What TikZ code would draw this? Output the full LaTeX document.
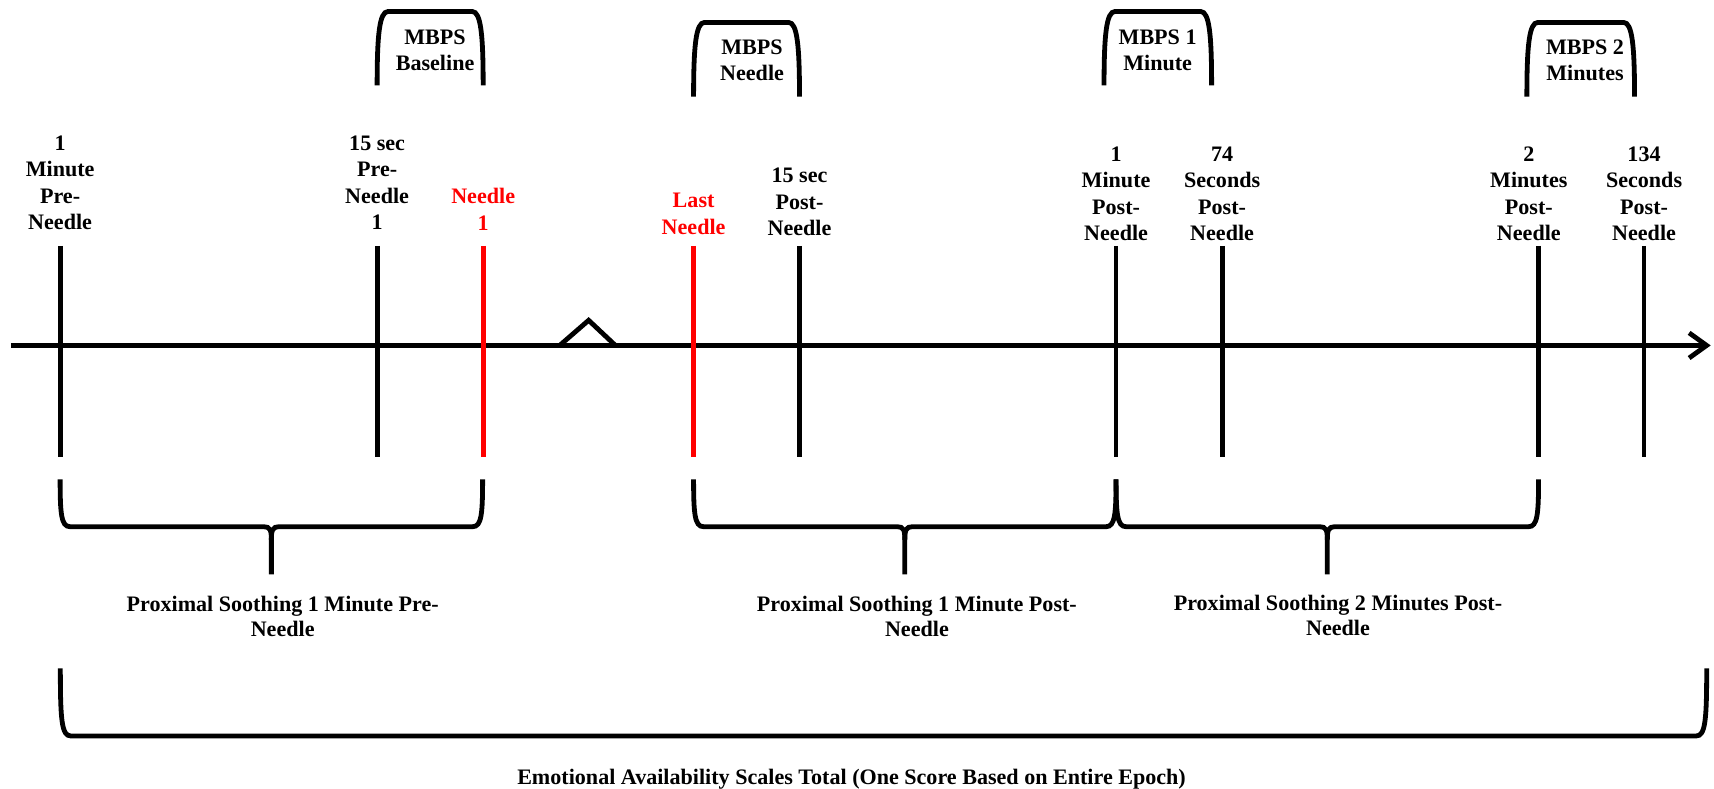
\documentclass[tikz,border=0pt]{standalone}
\usepackage{fontspec}
\setmainfont{Liberation Serif}
\usetikzlibrary{arrows.meta}
\definecolor{needlered}{RGB}{255,0,0}
\newcommand\lowbrace[2]{%
  \draw ({#1},438.5) .. controls ({#1},470) and ({#1+1},481.8) .. ({#1+9},481.8)
     -- ({(#1+#2)/2-7},481.8) .. controls ({(#1+#2)/2-1},481.8) and ({(#1+#2)/2},485) .. ({(#1+#2)/2},494)
     -- ({(#1+#2)/2},525.4);
  \draw ({#2},438.5) .. controls ({#2},470) and ({#2-1},481.8) .. ({#2-9},481.8)
     -- ({(#1+#2)/2+7},481.8) .. controls ({(#1+#2)/2+1},481.8) and ({(#1+#2)/2},485) .. ({(#1+#2)/2},494);
}
\newcommand\topbracket[4]{%
  \draw ({#1},{#4}) .. controls ({#1},{#3+22}) and ({#1+2},{#3}) .. ({#1+10},{#3})
     -- ({#2-10},{#3}) .. controls ({#2-2},{#3}) and ({#2},{#3+22}) .. ({#2},{#4});
}
\begin{document}
\begin{tikzpicture}[x=0.02cm,y=-0.02cm,
  line width=2.5pt,
  lbl/.style={font=\bfseries\fontsize{11.5}{13.8}\selectfont, align=center, inner sep=0pt, anchor=north},
  blbl/.style={font=\bfseries\fontsize{11.5}{13.1}\selectfont, align=center, inner sep=0pt, anchor=north},
  redlbl/.style={lbl, text=needlered},
  tickline/.style={draw=black},
  redtick/.style={draw=needlered},
  axisarrow/.style={-{Straight Barb[length=0.32cm,width=0.46cm]}}
  ]
\useasboundingbox (0,0) rectangle (1568,721);

% axis
\coordinate (ax0) at (10,316);
\coordinate (ax1) at (1565,316);
\draw[axisarrow] (ax0) -- (ax1);

% break mark
\coordinate (c0) at (512,316);
\coordinate (c1) at (538.5,293);
\coordinate (c2) at (563,316);
\draw (c0) -- (c1) -- (c2);

% ticks
\foreach \n/\x/\s in {t1/55/tickline, t2/345/tickline, t3/442/redtick, t4/634.5/redtick, t5/731.4/tickline, t6/1021/tickline, t7/1118/tickline, t8/1407.5/tickline, t9/1504/tickline}{
  \coordinate (\n a) at (\x,225);
  \coordinate (\n b) at (\x,418);
  \draw[\s] (\n a) -- (\n b);
}

% tick labels
\node[lbl] (l1) at (55,121.7) {1\\Minute\\Pre-\\Needle};
\node[lbl] (l2) at (345,121.7) {15 sec\\Pre-\\Needle\\1};
\node[redlbl] (l3) at (442,170) {Needle\\1};
\node[redlbl] (l4) at (634.5,174.5) {Last\\Needle};
\node[lbl] (l5) at (731.4,151.6) {15 sec\\Post-\\Needle};
\node[lbl] (l6) at (1021,131.8) {1\\Minute\\Post-\\Needle};
\node[lbl] (l7) at (1118,131.8) {74\\Seconds\\Post-\\Needle};
\node[lbl] (l8) at (1398.6,131.8) {2\\Minutes\\Post-\\Needle};
\node[lbl] (l9) at (1504,131.8) {134\\Seconds\\Post-\\Needle};

% top brackets
\topbracket{345}{442}{10.5}{78}
\topbracket{634.5}{731.4}{20.5}{88.4}
\topbracket{1010}{1108.4}{10.5}{78}
\topbracket{1396.8}{1495.3}{20.5}{88.4}
\node[lbl] (m1) at (398,25) {MBPS\\Baseline};
\node[lbl] (m2) at (688,34) {MBPS\\Needle};
\node[lbl] (m3) at (1059,25) {MBPS 1\\Minute};
\node[lbl] (m4) at (1450,34) {MBPS 2\\Minutes};

% lower braces
\lowbrace{55}{441.5}
\lowbrace{634.5}{1021}
\lowbrace{1021}{1407.5}
\node[blbl] (b1) at (258.6,543.4) {Proximal Soothing 1 Minute Pre-\\Needle};
\node[blbl] (b2) at (838.8,543.4) {Proximal Soothing 1 Minute Post-\\Needle};
\node[blbl] (b3) at (1224,542) {Proximal Soothing 2 Minutes Post-\\Needle};

% epoch bracket
\draw (55.2,611.4) .. controls (55.2,660) and (56.5,673.3) .. (65,673.3)
   -- (1551.5,673.3) .. controls (1560,673.3) and (1561.3,660) .. (1561.3,611.4);
\node[blbl] (e1) at (779,701.4) {Emotional Availability Scales Total (One Score Based on Entire Epoch)};
\end{tikzpicture}
\end{document}
